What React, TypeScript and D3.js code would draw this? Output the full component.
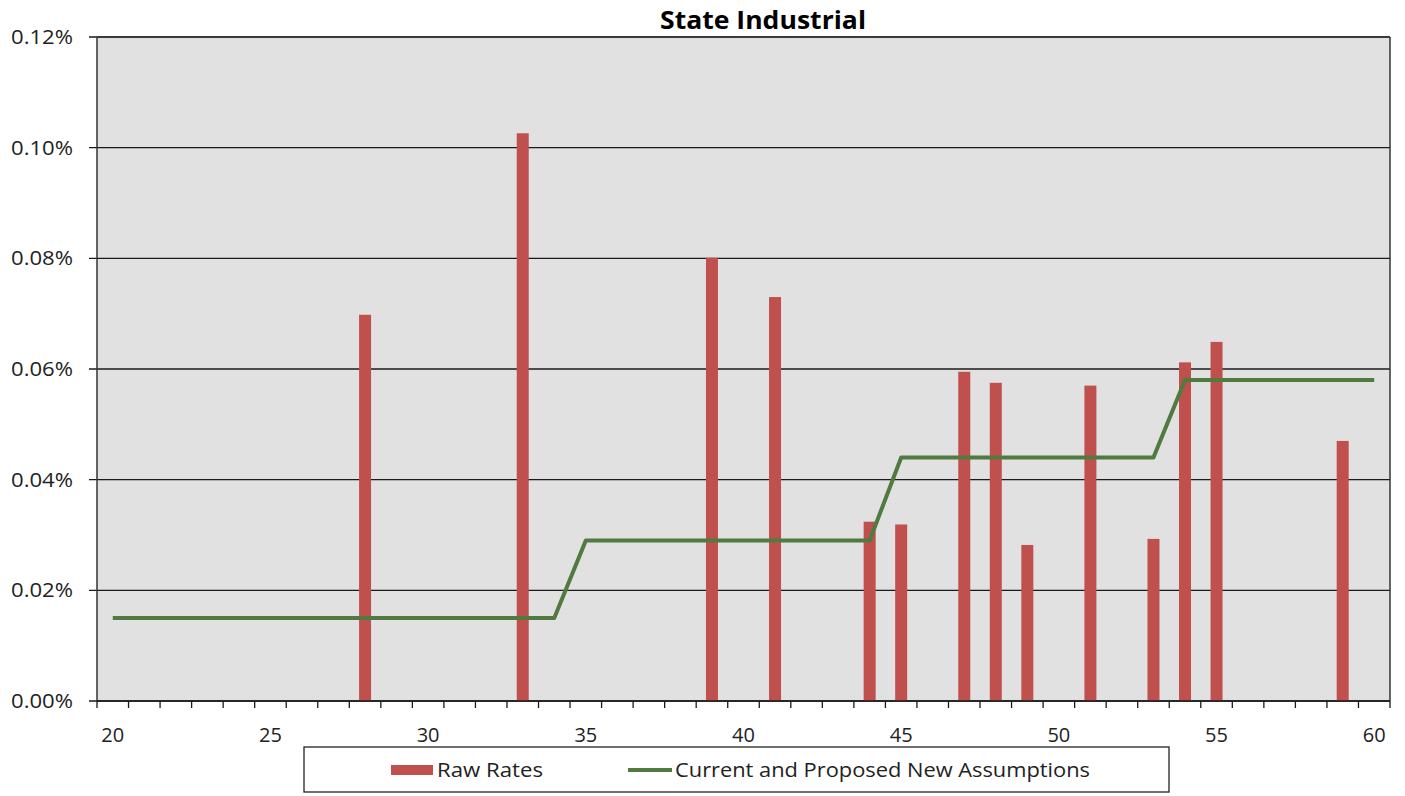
import React from "react";
import * as d3 from "d3";

const ages: number[] = d3.range(20, 61);
const rawAges = [28, 33, 39, 41, 44, 45, 47, 48, 49, 51, 53, 54, 55, 59];
const rawRates = [0.0698, 0.1026, 0.0801, 0.073, 0.0324, 0.0319, 0.0595, 0.0575, 0.0282, 0.057, 0.0293, 0.0612, 0.0649, 0.047];
const assumptionSteps = [
  { from: 20, to: 34, value: 0.015 },
  { from: 35, to: 44, value: 0.029 },
  { from: 45, to: 53, value: 0.044 },
  { from: 54, to: 60, value: 0.058 },
];
const yTicks = [0, 0.02, 0.04, 0.06, 0.08, 0.1, 0.12];
const xLabelAges = [20, 25, 30, 35, 40, 45, 50, 55, 60];
const title = "State Industrial";
const legendBar = "Raw Rates";
const legendLine = "Current and Proposed New Assumptions";

const W = 1405, H = 796;
const left = 97, right = 1390, top = 37, bottom = 701;
const FONT = "'Open Sans', 'Noto Sans', sans-serif";
const BAR = "#C0504D";
const GREEN = "#507A40";

export default function App() {
  const x = d3.scaleBand<number>().domain(ages).range([left, right]).padding(0);
  const y = d3.scaleLinear().domain([0, 0.12]).range([bottom, top]);
  const bw = x.bandwidth();
  const cx = (a: number) => (x(a) as number) + bw / 2;

  const linePts: [number, number][] = [];
  assumptionSteps.forEach((s) => {
    for (let a = s.from; a <= s.to; a++) linePts.push([a, s.value]);
  });
  const lineGen = d3.line<[number, number]>().x((d) => cx(d[0])).y((d) => y(d[1]));

  const tickXs = d3.range(0, ages.length + 1).map((i) => left + i * bw);

  return (
    <svg width={W} height={H} style={{ position: "absolute", left: 0, top: 0, display: "block" }}>
      <rect x={0} y={0} width={W} height={H} fill="#ffffff" />
      <rect x={left} y={top} width={right - left} height={bottom - top} fill="#E1E1E1" />
      {yTicks.map((t) => (
        <g key={t}>
          <line x1={left - 8} x2={right} y1={y(t)} y2={y(t)} stroke="#1a1a1a" strokeWidth={1.3} />
          <text x={73} y={y(t) + 7} textAnchor="end" fontFamily={FONT} fontSize={20} fill="#222" textLength={62} lengthAdjust="spacingAndGlyphs">
            {t.toFixed(2) + "%"}
          </text>
        </g>
      ))}
      {rawAges.map((a, i) => (
        <rect key={a} x={cx(a) - 6} y={y(rawRates[i])} width={12} height={bottom - y(rawRates[i])} fill={BAR} />
      ))}
      <path d={lineGen(linePts) || ""} fill="none" stroke={GREEN} strokeWidth={4} strokeLinejoin="round" />
      <line x1={right} x2={right} y1={top} y2={bottom} stroke="#333" strokeWidth={1.5} />
      <line x1={left} x2={left} y1={top} y2={bottom} stroke="#333" strokeWidth={1.5} />
      <line x1={left} x2={right} y1={top} y2={top} stroke="#333" strokeWidth={1.5} />
      <line x1={left} x2={right} y1={bottom} y2={bottom} stroke="#1a1a1a" strokeWidth={1.5} />
      {tickXs.map((tx, i) => (
        <line key={i} x1={tx} x2={tx} y1={bottom} y2={bottom + 7} stroke="#1a1a1a" strokeWidth={1.3} />
      ))}
      {xLabelAges.map((a) => (
        <text key={a} x={cx(a)} y={742} textAnchor="middle" fontFamily={FONT} fontSize={20} fill="#222">
          {a}
        </text>
      ))}
      <text x={763} y={29} textAnchor="middle" fontFamily={FONT} fontSize={25} fontWeight="bold" fill="#000" textLength={206} lengthAdjust="spacingAndGlyphs">
        {title}
      </text>
      <rect x={304} y={747} width={865} height={45} fill="#fff" stroke="#222" strokeWidth={1.3} />
      <rect x={391} y={765} width={42} height={10} fill={BAR} />
      <text x={437} y={777} fontFamily={FONT} fontSize={20} fill="#222" textLength={106} lengthAdjust="spacingAndGlyphs">{legendBar}</text>
      <line x1={628} x2={672} y1={770} y2={770} stroke={GREEN} strokeWidth={4} />
      <text x={675} y={777} fontFamily={FONT} fontSize={20} fill="#222" textLength={415} lengthAdjust="spacingAndGlyphs">{legendLine}</text>
    </svg>
  );
}
